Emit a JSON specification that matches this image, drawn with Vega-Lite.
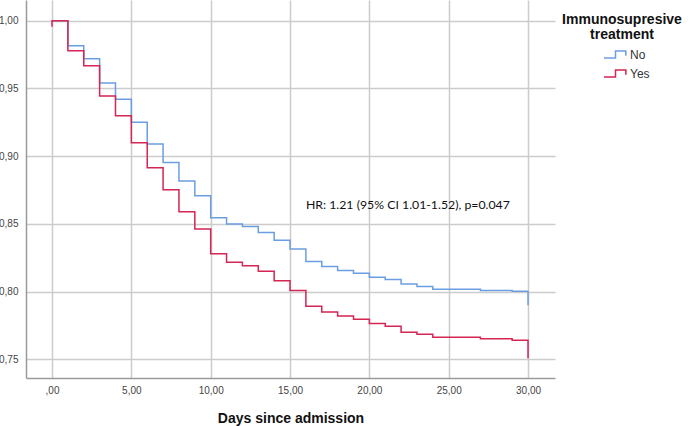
{
  "$schema": "https://vega.github.io/schema/vega-lite/v6.json",
  "autosize": {"type": "none"},
  "width": 529,
  "height": 378,
  "padding": {"left": 26, "top": 0, "right": 135, "bottom": 48},
  "background": "white",
  "config": {
    "view": {"stroke": null},
    "font": "Liberation Sans",
    "axis": {
      "domainColor": "#9a9a9a",
      "domainWidth": 1.5,
      "gridColor": "#cccccc",
      "gridWidth": 1.5,
      "ticks": false,
      "labelFont": "Liberation Sans",
      "labelFontSize": 10,
      "labelColor": "#444444"
    }
  },
  "datasets": {
    "km": [
      {"group": "No", "seq": 0, "day": 0, "surv": 1.0},
      {"group": "No", "seq": 1, "day": 1, "surv": 0.9815},
      {"group": "No", "seq": 2, "day": 2, "surv": 0.972},
      {"group": "No", "seq": 3, "day": 3, "surv": 0.954},
      {"group": "No", "seq": 4, "day": 4, "surv": 0.942},
      {"group": "No", "seq": 5, "day": 5, "surv": 0.925},
      {"group": "No", "seq": 6, "day": 6, "surv": 0.909},
      {"group": "No", "seq": 7, "day": 7, "surv": 0.8954},
      {"group": "No", "seq": 8, "day": 8, "surv": 0.8816},
      {"group": "No", "seq": 9, "day": 9, "surv": 0.8708},
      {"group": "No", "seq": 10, "day": 10, "surv": 0.8545},
      {"group": "No", "seq": 11, "day": 11, "surv": 0.8500},
      {"group": "No", "seq": 12, "day": 12, "surv": 0.848},
      {"group": "No", "seq": 13, "day": 13, "surv": 0.8437},
      {"group": "No", "seq": 14, "day": 14, "surv": 0.838},
      {"group": "No", "seq": 15, "day": 15, "surv": 0.8314},
      {"group": "No", "seq": 16, "day": 16, "surv": 0.8223},
      {"group": "No", "seq": 17, "day": 17, "surv": 0.8185},
      {"group": "No", "seq": 18, "day": 18, "surv": 0.8156},
      {"group": "No", "seq": 19, "day": 19, "surv": 0.8135},
      {"group": "No", "seq": 20, "day": 20, "surv": 0.8105},
      {"group": "No", "seq": 21, "day": 21, "surv": 0.809},
      {"group": "No", "seq": 22, "day": 22, "surv": 0.8056},
      {"group": "No", "seq": 23, "day": 23, "surv": 0.8038},
      {"group": "No", "seq": 24, "day": 24, "surv": 0.8018},
      {"group": "No", "seq": 25, "day": 27, "surv": 0.8008},
      {"group": "No", "seq": 26, "day": 29, "surv": 0.8003},
      {"group": "No", "seq": 27, "day": 30, "surv": 0.790},
      {"group": "Yes", "seq": 0, "day": 0, "surv": 0.9955},
      {"group": "Yes", "seq": 1, "day": 0, "surv": 1.0},
      {"group": "Yes", "seq": 2, "day": 1, "surv": 0.9778},
      {"group": "Yes", "seq": 3, "day": 2, "surv": 0.9668},
      {"group": "Yes", "seq": 4, "day": 3, "surv": 0.9444},
      {"group": "Yes", "seq": 5, "day": 4, "surv": 0.9298},
      {"group": "Yes", "seq": 6, "day": 5, "surv": 0.9099},
      {"group": "Yes", "seq": 7, "day": 6, "surv": 0.8914},
      {"group": "Yes", "seq": 8, "day": 7, "surv": 0.8752},
      {"group": "Yes", "seq": 9, "day": 8, "surv": 0.859},
      {"group": "Yes", "seq": 10, "day": 9, "surv": 0.8462},
      {"group": "Yes", "seq": 11, "day": 10, "surv": 0.828},
      {"group": "Yes", "seq": 12, "day": 11, "surv": 0.8216},
      {"group": "Yes", "seq": 13, "day": 12, "surv": 0.819},
      {"group": "Yes", "seq": 14, "day": 13, "surv": 0.815},
      {"group": "Yes", "seq": 15, "day": 14, "surv": 0.808},
      {"group": "Yes", "seq": 16, "day": 15, "surv": 0.8008},
      {"group": "Yes", "seq": 17, "day": 16, "surv": 0.7892},
      {"group": "Yes", "seq": 18, "day": 17, "surv": 0.785},
      {"group": "Yes", "seq": 19, "day": 18, "surv": 0.7819},
      {"group": "Yes", "seq": 20, "day": 19, "surv": 0.7796},
      {"group": "Yes", "seq": 21, "day": 20, "surv": 0.7764},
      {"group": "Yes", "seq": 22, "day": 21, "surv": 0.7744},
      {"group": "Yes", "seq": 23, "day": 22, "surv": 0.770},
      {"group": "Yes", "seq": 24, "day": 23, "surv": 0.7685},
      {"group": "Yes", "seq": 25, "day": 24, "surv": 0.7662},
      {"group": "Yes", "seq": 26, "day": 27, "surv": 0.7652},
      {"group": "Yes", "seq": 27, "day": 29, "surv": 0.764},
      {"group": "Yes", "seq": 28, "day": 30, "surv": 0.7507}
    ],
    "note": [
      {"label": "HR: 1.21 (95% CI 1.01-1.52), p=0.047", "day": 16, "surv": 0.8639}
    ]
  },
  "layer": [
    {
      "data": {"name": "km"},
      "mark": {"type": "line", "interpolate": "step-after", "strokeWidth": 1.5},
      "encoding": {
        "x": {
          "field": "day",
          "type": "quantitative",
          "scale": {"domain": [-1.64, 31.7], "nice": false, "zero": false},
          "axis": {
            "values": [0, 5, 10, 15, 20, 25, 30],
            "labelExpr": "datum.value == 0 ? ',00' : replace(format(datum.value, '.2f'), '.', ',')",
            "labelPadding": 7,
            "title": "Days since admission",
            "titleFont": "Liberation Sans",
            "titleFontSize": 14,
            "titleFontWeight": "bold",
            "titleColor": "#111111",
            "titlePadding": 16
          }
        },
        "y": {
          "field": "surv",
          "type": "quantitative",
          "scale": {"domain": [0.7362, 1.0153], "nice": false, "zero": false},
          "axis": {
            "values": [0.75, 0.8, 0.85, 0.9, 0.95, 1.0],
            "labelExpr": "replace(format(datum.value, '.2f'), '.', ',')",
            "labelPadding": 8,
            "title": null
          }
        },
        "color": {
          "field": "group",
          "type": "nominal",
          "scale": {"domain": ["No", "Yes"], "range": ["#6b9ee0", "#d42553"]},
          "legend": {
            "orient": "none",
            "legendX": 536,
            "legendY": 13,
            "title": ["Immunosupresive", "treatment"],
            "titleFont": "Liberation Sans",
            "titleFontSize": 14,
            "titleFontWeight": "bold",
            "titleColor": "#111111",
            "titleLineHeight": 15,
            "titleAlign": "center",
            "titleAnchor": "middle",
            "titlePadding": 0,
            "symbolType": "M-1,0.3H0V-0.3H0.9V0.1",
            "symbolSize": 529,
            "symbolStrokeWidth": 1.5,
            "symbolFillColor": "transparent",
            "symbolOffset": 9,
            "labelFont": "Liberation Sans",
            "labelFontSize": 12,
            "labelColor": "#333333",
            "labelOffset": 2,
            "rowPadding": -3
          }
        },
        "order": {"field": "seq", "type": "quantitative"}
      }
    },
    {
      "data": {"name": "note"},
      "mark": {"type": "text", "align": "left", "baseline": "middle", "font": "Lato", "fontSize": 12.3, "color": "#111111"},
      "encoding": {
        "x": {"field": "day", "type": "quantitative"},
        "y": {"field": "surv", "type": "quantitative"},
        "text": {"field": "label"}
      }
    }
  ]
}
